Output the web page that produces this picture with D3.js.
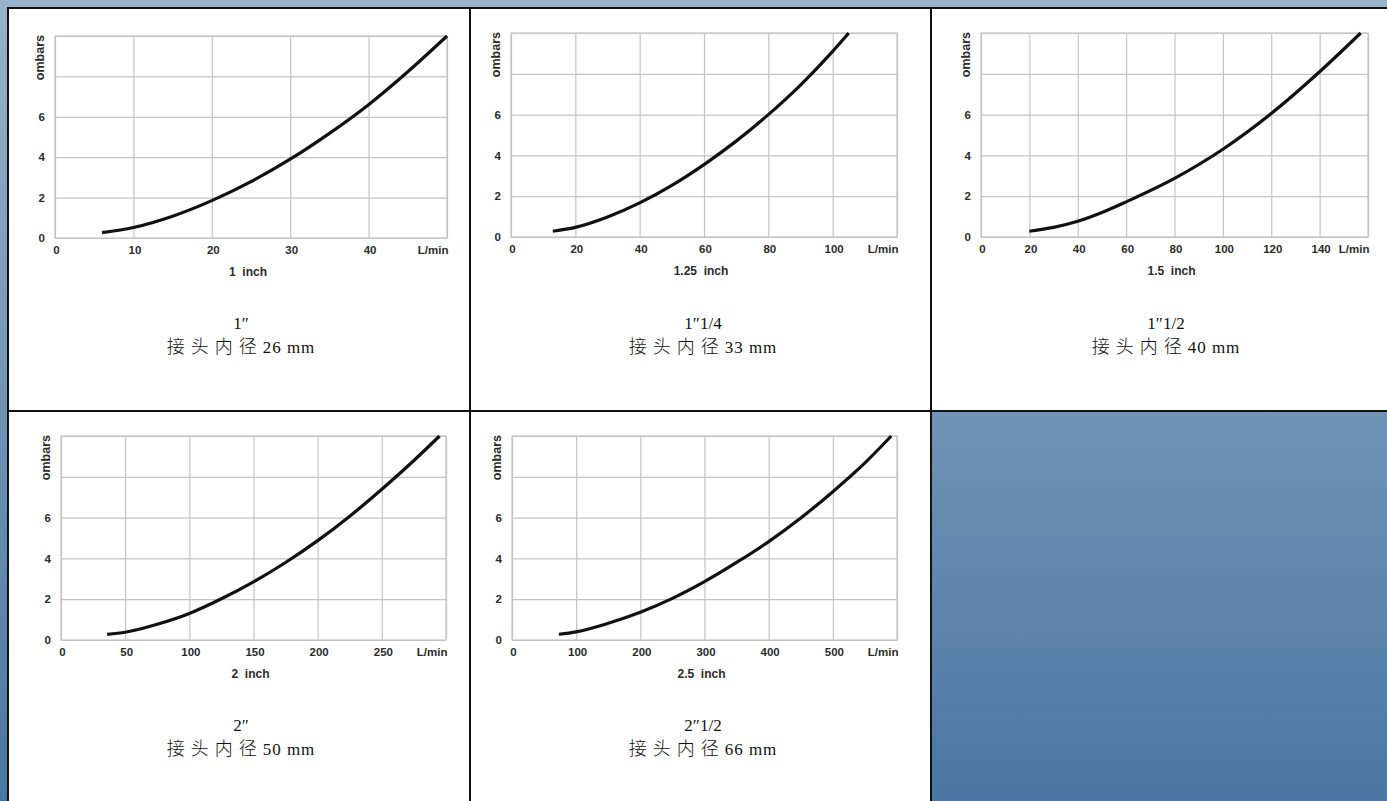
<!DOCTYPE html>
<html>
<head>
<meta charset="utf-8">
<script src="https://cdn.jsdelivr.net/npm/d3@7"></script>
<style>
html, body { margin: 0; padding: 0; overflow: hidden; }
svg { display: block; }
.axis text { font-family: "Liberation Sans", Arial, sans-serif; font-weight: bold; font-size: 11.5px; fill: #2b2b2b; }
.axis line { stroke: #c4c4c4; stroke-width: 1.2; }
.axis path { display: none; }
.cap { font-family: "Liberation Serif", "Noto Sans CJK SC", serif; font-size: 17px; fill: #111; }
</style>
</head>
<body>
<svg id="chart" width="1387" height="801"></svg>
<script>
// pressure drop (mbar) vs flow (L/min), one chart per fitting size
var sizeLabels = ["1  inch", "1.25  inch", "1.5  inch", "2  inch", "2.5  inch"];
var captionTop = ["1″", "1″1/4", "1″1/2", "2″", "2″1/2"];
var captionCjk = ["接头内径", "接头内径", "接头内径", "接头内径", "接头内径"];
var captionBore = ["26 mm", "33 mm", "40 mm", "50 mm", "66 mm"];
var xMax = [50, 120, 160, 300, 600];

var xTicks1 = [0, 10, 20, 30, 40, 50];
var xTicks2 = [0, 20, 40, 60, 80, 100, 120];
var xTicks3 = [0, 20, 40, 60, 80, 100, 120, 140, 160];
var xTicks4 = [0, 50, 100, 150, 200, 250, 300];
var xTicks5 = [0, 100, 200, 300, 400, 500, 600];
var yTicks = [0, 2, 4, 6, 8, 10];
var yLabelled = [0, 2, 4, 6];

var flow1 = [6, 10, 15, 20, 25, 30, 35, 40, 45, 50];
var drop1 = [0.27, 0.52, 1.08, 1.85, 2.79, 3.9, 5.18, 6.6, 8.23, 10];
var flow2 = [13, 20, 30, 40, 50, 60, 70, 80, 90, 100, 105];
var drop2 = [0.28, 0.47, 0.98, 1.67, 2.53, 3.55, 4.7, 6.0, 7.45, 9.1, 10];
var flow3 = [20, 30, 40, 50, 60, 80, 100, 120, 140, 157];
var drop3 = [0.28, 0.47, 0.77, 1.2, 1.72, 2.87, 4.3, 6.05, 8.1, 10];
var flow4 = [36, 50, 75, 100, 125, 150, 175, 200, 225, 250, 275, 295];
var drop4 = [0.28, 0.38, 0.77, 1.3, 2.02, 2.85, 3.8, 4.87, 6.07, 7.39, 8.8, 10];
var flow5 = [73, 100, 150, 200, 250, 300, 350, 400, 450, 500, 550, 591];
var drop5 = [0.28, 0.4, 0.82, 1.36, 2.04, 2.86, 3.8, 4.82, 5.98, 7.27, 8.68, 10];

var xTicks = [xTicks1, xTicks2, xTicks3, xTicks4, xTicks5];
var flows = [flow1, flow2, flow3, flow4, flow5];
var drops = [drop1, drop2, drop3, drop4, drop5];

// layout (page pixels)
var plotBox = [
  {l: 55, r: 447, t: 36, b: 238},
  {l: 511, r: 897, t: 33, b: 237},
  {l: 981, r: 1368, t: 33, b: 237},
  {l: 61, r: 446, t: 436, b: 640},
  {l: 512, r: 897, t: 436, b: 640}
];
var captionPos = [
  {x: 241, y: 329}, {x: 703, y: 329}, {x: 1166, y: 329},
  {x: 241, y: 731}, {x: 703, y: 731}
];
var cells = [
  {x: 8, y: 8, w: 462, h: 403}, {x: 470, y: 8, w: 461, h: 403}, {x: 931, y: 8, w: 462, h: 403},
  {x: 8, y: 411, w: 462, h: 400}, {x: 470, y: 411, w: 461, h: 400}
];

var svg = d3.select("#chart");

// page background
var defs = svg.append("defs");
var grad = defs.append("linearGradient")
    .attr("id", "bg").attr("x1", 0).attr("y1", 0).attr("x2", 0).attr("y2", 1);
grad.append("stop").attr("offset", "0%").attr("stop-color", "#98b2ca");
grad.append("stop").attr("offset", "100%").attr("stop-color", "#4a76a3");
svg.append("rect").attr("width", 1387).attr("height", 801).attr("fill", "url(#bg)");

// white table cells
svg.selectAll("rect.cell").data(cells).enter().append("rect")
    .attr("class", "cell")
    .attr("x", function(d) { return d.x; })
    .attr("y", function(d) { return d.y; })
    .attr("width", function(d) { return d.w; })
    .attr("height", function(d) { return d.h; })
    .attr("fill", "#fff");

// table borders
var borders = svg.append("g").attr("stroke", "#111").attr("stroke-width", 2);
[8, 411].forEach(function(y) {
  borders.append("line").attr("x1", 7).attr("x2", 1387).attr("y1", y).attr("y2", y);
});
[8, 470, 931].forEach(function(x) {
  borders.append("line").attr("x1", x).attr("x2", x).attr("y1", 7).attr("y2", 801);
});

var axisFont = function(sel, size) {
  sel.style("font-family", "Liberation Sans, Arial, sans-serif")
     .style("font-weight", "bold").style("font-size", size).style("fill", "#2b2b2b");
};

plotBox.forEach(function(p, i) {
  var g = svg.append("g");
  var x = d3.scaleLinear().domain([0, xMax[i]]).range([p.l, p.r]);
  var y = d3.scaleLinear().domain([0, 10]).range([p.b, p.t]);

  g.append("g").attr("class", "axis")
      .attr("transform", "translate(0," + p.b + ")")
      .call(d3.axisBottom(x).tickValues(xTicks[i]).tickSize(-(p.b - p.t)).tickPadding(8)
        .tickFormat(function(d) { return d === xMax[i] ? "L/min" : d; }))
      .selectAll("text")
      .attr("text-anchor", function(d) { return d === xMax[i] ? "end" : "middle"; })
      .attr("dx", function(d) { return d === xMax[i] ? 1 : 1; });

  g.append("g").attr("class", "axis")
      .attr("transform", "translate(" + p.l + ",0)")
      .call(d3.axisLeft(y).tickValues(yTicks).tickSize(-(p.r - p.l)).tickPadding(10)
        .tickFormat(function(d) { return yLabelled.indexOf(d) >= 0 ? d : ""; }));

  g.append("rect")
      .attr("x", p.l).attr("y", p.t)
      .attr("width", p.r - p.l).attr("height", p.b - p.t)
      .attr("fill", "none").attr("stroke", "#c4c4c4").attr("stroke-width", 1.2);

  // y title
  g.append("text")
      .attr("transform", "translate(" + (p.l - 11) + "," + (p.t - 1) + ") rotate(-90)")
      .attr("text-anchor", "end")
      .call(axisFont, "12.5px")
      .text("ombars");

  // size label under the axis
  g.append("text")
      .attr("x", (p.l + p.r) / 2 - 3).attr("y", p.b + 38)
      .attr("text-anchor", "middle")
      .style("white-space", "pre")
      .call(axisFont, "12px")
      .text(sizeLabels[i]);

  var pts = flows[i].map(function(f, k) { return [f, drops[i][k]]; });
  var line = d3.line()
      .x(function(d) { return x(d[0]); })
      .y(function(d) { return y(d[1]); })
      .curve(d3.curveMonotoneX);
  g.append("path").datum(pts)
      .attr("d", line)
      .attr("fill", "none").attr("stroke", "#111").attr("stroke-width", 3.2);

  // caption
  var c = captionPos[i];
  g.append("text").attr("class", "cap")
      .attr("x", c.x).attr("y", c.y).attr("text-anchor", "middle")
      .text(captionTop[i]);
  var t2 = g.append("text").attr("class", "cap")
      .attr("x", c.x).attr("y", c.y + 24).attr("text-anchor", "middle");
  t2.append("tspan")
      .style("font-family", "Noto Sans CJK SC, sans-serif")
      .style("font-size", "18px").style("font-weight", 300)
      .style("letter-spacing", "6px")
      .text(captionCjk[i]);
  t2.append("tspan")
      .style("white-space", "pre")
      .style("letter-spacing", "1px")
      .text(captionBore[i]);
});
</script>
</body>
</html>
